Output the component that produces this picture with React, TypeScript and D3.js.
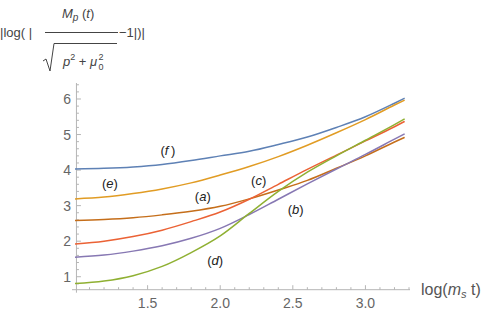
import React, { useEffect, useRef } from 'react';
import * as d3 from 'd3';

// sample points along log(m_s t)
const xs = [1.0, 1.2, 1.4, 1.6, 1.8, 2.0, 2.2, 2.4, 2.6, 2.8, 3.0, 3.2, 3.27];

const seriesF = [4.03, 4.05, 4.09, 4.16, 4.27, 4.40, 4.53, 4.72, 4.93, 5.20, 5.50, 5.88, 6.02];
const seriesE = [3.19, 3.24, 3.34, 3.47, 3.64, 3.86, 4.10, 4.38, 4.70, 5.05, 5.42, 5.83, 5.97];
const seriesA = [2.58, 2.61, 2.66, 2.74, 2.84, 2.98, 3.19, 3.44, 3.71, 4.05, 4.40, 4.79, 4.92];
const seriesC = [1.92, 2.00, 2.13, 2.31, 2.55, 2.82, 3.18, 3.60, 4.02, 4.42, 4.82, 5.22, 5.37];
const seriesB = [1.55, 1.61, 1.72, 1.87, 2.08, 2.36, 2.75, 3.18, 3.61, 4.03, 4.44, 4.87, 5.02];
const seriesD = [0.81, 0.88, 1.03, 1.29, 1.68, 2.15, 2.78, 3.40, 3.94, 4.40, 4.84, 5.28, 5.44];

const seriesNames = ['f', 'e', 'a', 'c', 'b', 'd'];
const seriesColors = ['#5E81B5', '#E19C24', '#C56E1A', '#EB6235', '#8778B3', '#8FB032'];
const seriesValues = [seriesF, seriesE, seriesA, seriesC, seriesB, seriesD];

// label anchor points (data coords)
const labelX = [1.64, 1.24, 1.88, 2.265, 2.52, 1.965];
const labelY = [4.55, 3.61, 3.25, 3.72, 2.90, 1.47];

const xTicks = [1.5, 2.0, 2.5, 3.0];
const yTicks = [1, 2, 3, 4, 5, 6];

const W = 485;
const H = 315;
const FONT = "'Liberation Sans', Arial, sans-serif";

export default function App() {
  const svgRef = useRef<SVGSVGElement>(null);

  useEffect(() => {
    if (!svgRef.current) return;
    const svg = d3.select(svgRef.current);
    svg.selectAll('*').remove();

    const x = d3.scaleLinear().domain([1, 3.3]).range([75, 409]);
    const y = d3.scaleLinear().domain([0.635, 6.45]).range([289.7, 83]);
    const axisColor = '#b5b5b5';

    // axes lines
    svg.append('line')
      .attr('x1', 72).attr('x2', 410)
      .attr('y1', y(0.635)).attr('y2', y(0.635))
      .attr('stroke', axisColor).attr('stroke-width', 1);
    svg.append('line')
      .attr('x1', x(1.01)).attr('x2', x(1.01))
      .attr('y1', y(0.635) + 3).attr('y2', y(6.45))
      .attr('stroke', axisColor).attr('stroke-width', 1);

    // x ticks: major + minor, inward
    const xMinor = d3.range(1.1, 3.301, 0.1);
    svg.append('g').selectAll('line')
      .data(xMinor)
      .enter().append('line')
      .attr('x1', d => x(d)).attr('x2', d => x(d))
      .attr('y1', y(0.635))
      .attr('y2', d => y(0.635) - (xTicks.some(t => Math.abs(t - d) < 1e-6) ? 4.5 : 2.5))
      .attr('stroke', axisColor);

    svg.append('g').selectAll('text')
      .data(xTicks)
      .enter().append('text')
      .attr('x', d => x(d))
      .attr('y', 308)
      .attr('text-anchor', 'middle')
      .attr('font-family', FONT)
      .attr('font-size', 14)
      .attr('fill', '#666')
      .text(d => d.toFixed(1));

    // y ticks
    const yMinor = d3.range(0.8, 6.45, 0.2);
    svg.append('g').selectAll('line')
      .data(yMinor)
      .enter().append('line')
      .attr('y1', d => y(d)).attr('y2', d => y(d))
      .attr('x1', x(1.01))
      .attr('x2', d => x(1.01) + (yTicks.some(t => Math.abs(t - d) < 1e-6) ? 4.5 : 2.5))
      .attr('stroke', axisColor);

    svg.append('g').selectAll('text')
      .data(yTicks)
      .enter().append('text')
      .attr('x', 71)
      .attr('y', d => y(d) + 5)
      .attr('text-anchor', 'end')
      .attr('font-family', FONT)
      .attr('font-size', 14)
      .attr('fill', '#666')
      .text(d => String(d));

    // curves
    const line = d3.line<number>()
      .x((_, i) => x(xs[i]))
      .y(d => y(d))
      .curve(d3.curveMonotoneX);

    svg.append('g').selectAll('path')
      .data(seriesValues)
      .enter().append('path')
      .attr('fill', 'none')
      .attr('stroke', (_, i) => seriesColors[i])
      .attr('stroke-width', 1.5)
      .attr('d', d => line(d));

    // curve labels
    const lab = svg.append('g').selectAll('text')
      .data(seriesNames)
      .enter().append('text')
      .attr('x', (_, i) => x(labelX[i]))
      .attr('y', (_, i) => y(labelY[i]) + 4.5)
      .attr('text-anchor', 'middle')
      .attr('font-family', FONT)
      .attr('font-size', 13)
      .attr('fill', '#222');
    lab.append('tspan').text('(');
    lab.append('tspan').attr('font-style', 'italic').text(d => d === 'f' ? 'f\u2009' : d);
    lab.append('tspan').text(')');

    // x axis label: log(m_s t)
    const xl = svg.append('text')
      .attr('x', 421)
      .attr('y', 295)
      .attr('font-family', FONT)
      .attr('font-size', 16)
      .attr('fill', '#555');
    xl.append('tspan').text('log(');
    xl.append('tspan').attr('font-style', 'italic').text('m');
    xl.append('tspan').attr('font-style', 'italic').attr('font-size', 11).attr('dy', 3).text('s');
    xl.append('tspan').attr('dy', -3).text(' t)');

    // y axis label
    const yl = svg.append('g')
      .attr('font-family', FONT)
      .attr('fill', '#444')
      .attr('font-size', 13);
    yl.append('text').attr('x', 0).attr('y', 37).text('|log( |');
    const num = yl.append('text').attr('x', 62).attr('y', 18);
    num.append('tspan').attr('font-style', 'italic').text('M');
    num.append('tspan').attr('font-style', 'italic').attr('font-size', 10).attr('dy', 3).text('p');
    num.append('tspan').attr('dy', -3).text(' (');
    num.append('tspan').attr('font-style', 'italic').text('t');
    num.append('tspan').text(')');
    yl.append('line')
      .attr('x1', 45).attr('x2', 118).attr('y1', 32.5).attr('y2', 32.5)
      .attr('stroke', '#444').attr('stroke-width', 1);
    yl.append('text').attr('x', 119).attr('y', 37).text('\u22121|)|');
    yl.append('path')
      .attr('d', 'M43,61 L46,59 L50,71 L54,43.5 L117,43.5')
      .attr('fill', 'none').attr('stroke', '#444').attr('stroke-width', 1);
    const den = yl.append('text').attr('x', 63).attr('y', 66);
    den.append('tspan').attr('font-style', 'italic').text('p');
    den.append('tspan').attr('font-size', 9).attr('dy', -6).text('2');
    den.append('tspan').attr('dy', 6).text(' + ');
    den.append('tspan').attr('font-style', 'italic').text('\u03bc');
    yl.append('text').attr('x', 98.5).attr('y', 60).attr('font-size', 9).text('2');
    yl.append('text').attr('x', 98.5).attr('y', 70).attr('font-size', 9).text('0');
  }, []);

  return (
    <svg
      ref={svgRef}
      width={W}
      height={H}
      style={{ position: 'absolute', left: 0, top: 0, background: '#fff' }}
    />
  );
}
